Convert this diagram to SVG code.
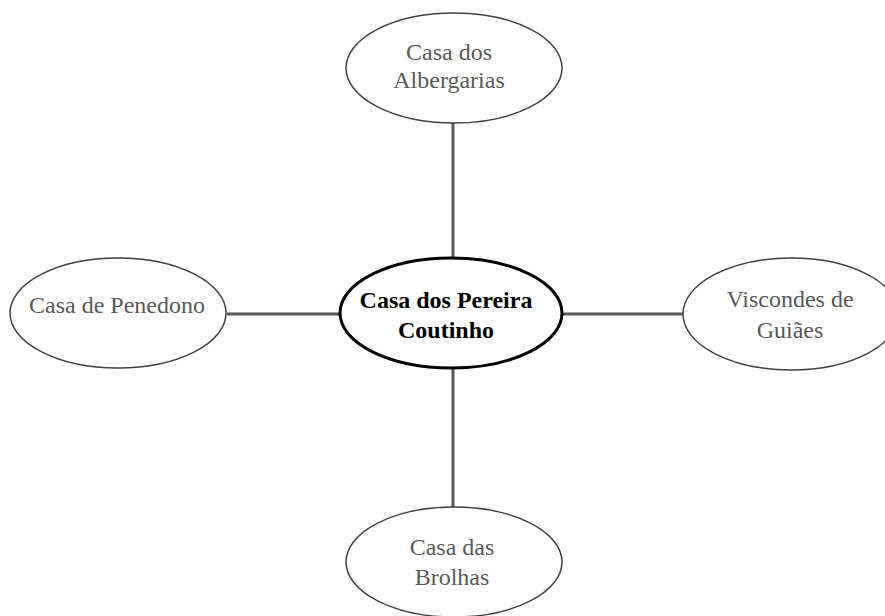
<svg xmlns="http://www.w3.org/2000/svg" width="885" height="616" viewBox="0 0 885 616">
<style>
.n{fill:#fff;stroke:#404040;stroke-width:1.5}
.c{fill:#fff;stroke:#000;stroke-width:3}
.t{font-family:"Liberation Serif","Times New Roman",serif;font-size:24px;fill:#595959;text-anchor:middle}
.b{font-family:"Liberation Serif","Times New Roman",serif;font-size:24px;font-weight:bold;fill:#000;text-anchor:middle}
.e{stroke:#595959;stroke-width:3;fill:none}
</style>
<rect width="885" height="616" fill="#fff"/>
<g id="connectors">
<line class="e" x1="453" y1="123" x2="453" y2="258"/>
<line class="e" x1="453" y1="368" x2="453" y2="507"/>
<line class="e" x1="227" y1="314" x2="340" y2="314"/>
<line class="e" x1="563" y1="314" x2="683" y2="314"/>
</g>
<g id="top">
<ellipse class="n" cx="454" cy="68" rx="108" ry="55"/>
<text class="t" x="449" y="60">Casa dos</text>
<text class="t" x="449" y="88">Albergarias</text>
</g>
<g id="left">
<ellipse class="n" cx="118" cy="313" rx="108" ry="55"/>
<text class="t" x="117" y="313">Casa de Penedono</text>
</g>
<g id="right">
<ellipse class="n" cx="791" cy="314" rx="108" ry="56"/>
<text class="t" x="790" y="307">Viscondes de</text>
<text class="t" x="790" y="338">Guiães</text>
</g>
<g id="bottom">
<ellipse class="n" cx="454" cy="562" rx="108" ry="55"/>
<text class="t" x="452" y="555">Casa das</text>
<text class="t" x="452" y="585">Brolhas</text>
</g>
<g id="center">
<ellipse class="c" cx="451" cy="313" rx="111" ry="55"/>
<text class="b" x="446" y="308">Casa dos Pereira</text>
<text class="b" x="446" y="338">Coutinho</text>
</g>
</svg>
